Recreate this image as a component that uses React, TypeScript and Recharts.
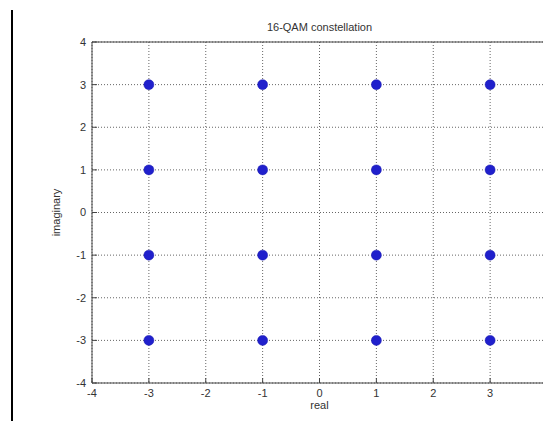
import { ScatterChart, Scatter, XAxis, YAxis, CartesianGrid, ReferenceLine, Label } from 'recharts'

// 16-QAM symbols
const symbolReal = [-3, -1, 1, 3, -3, -1, 1, 3, -3, -1, 1, 3, -3, -1, 1, 3]
const symbolImag = [3, 3, 3, 3, 1, 1, 1, 1, -1, -1, -1, -1, -3, -3, -3, -3]

const gridTicks = [-4, -3, -2, -1, 0, 1, 2, 3, 4]
// the right edge (4) is cropped off in the original
const xTickLabels = [-4, -3, -2, -1, 0, 1, 2, 3]
const yTickLabels = [-4, -3, -2, -1, 0, 1, 2, 3, 4]

const points = symbolReal.map((re, i) => ({ re, im: symbolImag[i] }))

const FONT = 'Liberation Sans, Arial, sans-serif'
const tickStyle = { fontSize: 11, fill: '#333', fontFamily: FONT }

const Dot = (props: any) => {
  const { cx, cy } = props
  return <circle cx={cx} cy={cy} r={5} fill="#2020cc" stroke="#1a1ab0" strokeWidth={0.5} />
}

export default function App() {
  return (
    <div style={{ position: 'fixed', left: 0, top: 0, width: 543, height: 421, overflow: 'hidden', background: '#fff' }}>
      <div style={{ position: 'absolute', left: 11, top: 10, width: 1.5, height: 411, background: '#000' }} />
      <div style={{ position: 'absolute', left: 0, top: 0 }}>
        <ScatterChart width={560} height={421} margin={{ top: 42, right: 13, left: 32, bottom: 8 }}>
          <CartesianGrid stroke="#666" strokeDasharray="1 2" horizontalValues={gridTicks} verticalValues={gridTicks} />
          <XAxis
            type="number"
            dataKey="re"
            domain={[-4, 4]}
            ticks={xTickLabels}
            allowDataOverflow
            height={30}
            tick={tickStyle}
            tickSize={-5}
            tickMargin={11}
            stroke="#444"
            tickLine={{ stroke: '#444' }}
          >
            <Label value="real" position="insideBottom" offset={4} style={{ fontSize: 11, fill: '#333', fontFamily: FONT }} />
          </XAxis>
          <YAxis
            type="number"
            dataKey="im"
            domain={[-4, 4]}
            ticks={yTickLabels}
            allowDataOverflow
            width={60}
            tick={tickStyle}
            tickSize={-5}
            tickMargin={11}
            stroke="#444"
            tickLine={{ stroke: '#444' }}
          >
            <Label value="imaginary" angle={-90} position="insideLeft" offset={24} style={{ fontSize: 11, fill: '#333', fontFamily: FONT, textAnchor: 'middle' }} />
          </YAxis>
          <ReferenceLine y={4} stroke="#444" strokeWidth={1} />
          <Scatter data={points} shape={Dot} isAnimationActive={false} />
          <text x={319.5} y={31} textAnchor="middle" fontSize={11} fill="#333" fontFamily={FONT}>
            16-QAM constellation
          </text>
        </ScatterChart>
      </div>
    </div>
  )
}
